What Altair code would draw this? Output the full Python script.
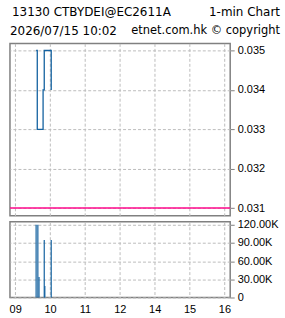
import altair as alt
import pandas as pd

# ---- data ----
price_times = ["09:36", "09:38", "09:48", "09:50", "10:02"]
price_values = [0.035, 0.033, 0.034, 0.035, 0.034]

vol_times = ["09:36", "09:39", "09:41", "09:50", "09:51", "10:02"]
vol_values = [120000, 120000, 34000, 95000, 19000, 95000]

prev_close = 0.031

x_tick_labels = ["09", "10", "11", "12", "14", "15", "16"]
price_ticks = [0.031, 0.032, 0.033, 0.034, 0.035]
vol_ticks = [0, 30000, 60000, 90000, 120000]

title_left_1 = "13130 CTBYDEI@EC2611A"
title_right_1 = "1-min Chart"
title_left_2 = "2026/07/15 10:02"
title_right_2 = "etnet.com.hk © copyright"


def trade_minutes(t):
    h, m = map(int, t.split(":"))
    mins = (h - 9) * 60 + m
    if h >= 13:  # lunch break compressed
        mins -= 60
    return mins


price_df = pd.DataFrame({"t": [trade_minutes(t) for t in price_times], "p": price_values})
vol_df = pd.DataFrame({"t": [trade_minutes(t) for t in vol_times], "v": vol_values})
ref_df = pd.DataFrame({"p": [prev_close]})
txt_df = pd.DataFrame({"a": [0]})

tick_pos = [i * 60 for i in range(len(x_tick_labels))]
label_map = "{" + ",".join(f"'{p}':'{l}'" for p, l in zip(tick_pos, x_tick_labels)) + "}"

X_DOMAIN = [-9, 370]
BLUE = "#1462a0"
PINK = "#ff0a8c"
FONT = "Liberation Sans"

grid_kw = dict(grid=True, gridColor="#bdbdbd", gridDash=[3, 2], gridWidth=1)

x_top = alt.X("t:Q", scale=alt.Scale(domain=X_DOMAIN, nice=False, zero=False),
              axis=alt.Axis(values=tick_pos, labels=False, ticks=False, domain=False,
                            title=None, **grid_kw))
x_bot = alt.X("t:Q", scale=alt.Scale(domain=X_DOMAIN, nice=False, zero=False),
              axis=alt.Axis(values=tick_pos, labelExpr=f"{label_map}[datum.value]",
                            ticks=False, domain=False, title=None, labelPadding=6,
                            labelFont=FONT, labelFontSize=11, labelColor="black",
                            labelBaseline="top", **grid_kw))

y_price = alt.Y("p:Q", scale=alt.Scale(domain=[0.030805, 0.03518], nice=False, zero=False),
                axis=alt.Axis(orient="right", values=price_ticks, format=".3f", title=None,
                              tickSize=4, tickColor="#808080", domain=False,
                              labelPadding=3, labelFont=FONT, labelFontSize=11,
                              labelColor="black", **grid_kw))

price_line = alt.Chart(price_df).mark_line(interpolate="step-after", color=BLUE,
                                            strokeWidth=1.3).encode(x=x_top, y=y_price)
ref_line = alt.Chart(ref_df).mark_rule(color=PINK, strokeWidth=1.5).encode(y="p:Q")

t1 = alt.Chart(txt_df).mark_text(text=title_left_1, align="left", baseline="middle",
                                 font="DejaVu Sans", fontSize=12, color="black").encode(
    x=alt.value(2), y=alt.value(-32))
t2 = alt.Chart(txt_df).mark_text(text=title_right_1, align="right", baseline="middle",
                                 font="DejaVu Sans", fontSize=12, color="black").encode(
    x=alt.value(271), y=alt.value(-32))
t3 = alt.Chart(txt_df).mark_text(text=title_left_2, align="left", baseline="middle",
                                 font="DejaVu Sans", fontSize=12, color="black").encode(
    x=alt.value(0), y=alt.value(-12))
t4 = alt.Chart(txt_df).mark_text(text=title_right_2, align="right", baseline="middle",
                                 font="DejaVu Sans", fontSize=11.5, color="black").encode(
    x=alt.value(271), y=alt.value(-12))

top = alt.layer(price_line, ref_line, t1, t2, t3, t4).properties(width=221, height=173)

vol_bars = alt.Chart(vol_df).mark_rule(color=BLUE, strokeWidth=1.2).encode(
    x=x_bot,
    y=alt.Y("v:Q", scale=alt.Scale(domain=[0, 125000], nice=False),
            axis=alt.Axis(orient="right", values=vol_ticks, title=None,
                          labelExpr="datum.value == 0 ? '0' : format(datum.value / 1000, '.2f') + 'K'",
                          tickSize=4, tickColor="#808080", domain=False,
                          labelPadding=3, labelFont=FONT, labelFontSize=11,
                          labelColor="black", **grid_kw)),
    y2=alt.datum(0),
)
bottom = alt.layer(vol_bars).properties(width=221, height=76)

chart = alt.vconcat(top, bottom, spacing=6, bounds="flush").properties(
    padding={"left": 8, "top": 4, "right": 4, "bottom": 2},
    background="white",
).configure_view(stroke="#808080", strokeWidth=1.5)

chart.save("out.html", embed_options={"renderer": "svg", "actions": False})
